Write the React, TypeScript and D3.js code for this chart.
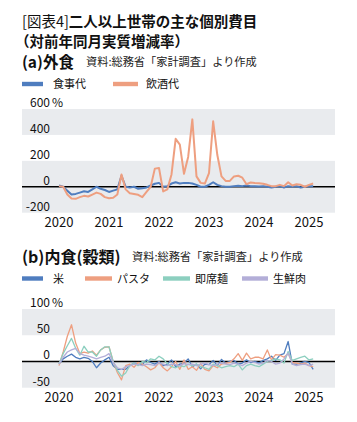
import React from "react";
import * as d3 from "d3";

const W = 357;
const H = 422;
const FONT = "'Noto Sans CJK JP', 'Noto Sans', sans-serif";

const years = ["2020", "2021", "2022", "2023", "2024", "2025"];

// (a) 外食 : monthly from Jan 2020 to Feb 2025
const shokujidai = [10, 0, -30, -60, -55, -45, -35, -40, -20, 0, -15, -25, -40, -30, -20, 85, 0, -5, 0, -15, -12, -5, 10, 23, 30, 0, 5, 25, 35, 25, 30, 30, 25, 15, 0, 0, 15, 35, 15, 5, 0, 0, 5, 8, 5, 10, 5, 5, 3, 5, 0, -5, 0, 5, -5, 5, 0, 5, -5, 0, 5, 5];
const inshudai = [5, 0, -60, -90, -93, -80, -70, -75, -60, -45, -55, -80, -88, -85, -60, 95, -20, -50, -55, -62, -80, -40, 0, 140, 145, -36, -20, 95, 370, 325, 100, 230, 520, 80, 30, 25, 105, 505, 245, 80, 45, 45, 80, 85, 70, 20, 33, 30, 28, 23, 15, 5, 5, 15, 5, 35, 10, 20, 15, 0, 15, 25];

// (b) 内食(穀類)
const kome = [-5, 5, 10, 14, 8, 5, 8, 6, 0, -12, -3, 3, 8, -8, -15, -15, -15, -8, -3, -5, -6, 3, -2, -5, 0, -8, -5, 3, -10, -5, -3, 5, -10, -5, -14, -5, -6, 2, -8, 4, -3, 0, 2, -5, -3, 3, -2, 0, -3, 2, 5, 10, 2, 12, 15, 38, -5, -5, -3, 0, -2, -15];
const pasta = [-8, 18, 48, 70, 35, 15, 18, 16, 20, 12, 22, 27, 28, 0, -21, -35, -8, -5, -11, -2, -5, -10, -16, -12, -2, -12, -18, -10, 0, -15, 3, -15, -10, -17, -4, -15, -18, -8, -12, -5, -3, -2, 5, 15, 2, 16, 5, 8, 8, 5, 22, 3, 13, 12, 8, 15, -2, -3, -5, -3, -8, -10];
const sokusekimen = [-5, 15, 30, 44, 25, 12, 29, 18, 18, 10, 22, 28, 28, 0, -17, -28, -22, -8, -3, -8, 0, -2, 5, 3, 10, 5, -4, -10, -12, -8, -10, -5, -8, -5, -10, -12, -15, -5, -8, -12, -10, -8, -10, -5, -16, -8, -5, -8, -10, -5, 0, 2, 5, 3, -3, 19, 2, 5, 8, 10, 3, 5];
const sensenniku = [-5, 8, 18, 22, 25, 15, 12, 10, 8, 5, 8, 10, 15, -2, -12, -15, -10, -8, -5, -6, -8, -5, -6, -8, -3, -5, -8, -5, -6, -8, -4, -6, -5, -8, -5, -3, -6, -8, -5, -3, -5, -6, -3, -5, -8, -3, 0, -2, -5, -3, 2, 0, -5, -3, 5, 16, -5, -8, -6, -5, -8, -5];

const ticksA = [600, 400, 200, 0, -200];
const ticksB = [100, 50, 0, -50];

const C_BLUE = "#4f7dbf";
const C_ORANGE = "#ee9f80";
const C_TEAL = "#8ccfbf";
const C_LAV = "#b3aed8";
const C_BAND = "#e9ebee";

const X0 = 22;
const X1 = 335;

function Panel({ domain, range, bands, ticks, series, yearY, strokeW }: any) {
  const x = d3.scaleLinear().domain([0, 60]).range([59, 309]);
  const y = d3.scaleLinear().domain(domain).range(range);
  const line = d3
    .line<number>()
    .x((_, i) => x(i))
    .y((d) => y(d));
  return (
    <g>
      {bands.map((b: number[], i: number) => (
        <rect key={i} x={X0} width={X1 - X0} y={y(b[1])} height={y(b[0]) - y(b[1])} fill={C_BAND} />
      ))}
      {ticks.map((t: number) => (
        <text key={t} x={50} y={y(t) - 2} fontSize={12} textAnchor="end" fill="#111" fontFamily={FONT}>
          {t}
        </text>
      ))}
      <text x={52} y={y(ticks[0]) - 2} fontSize={12} fill="#111" fontFamily={FONT}>
        %
      </text>
      <line x1={X0} x2={X1} y1={y(0)} y2={y(0)} stroke="#000" strokeWidth={1.5} />
      {series.map((s: any, i: number) => (
        <path key={i} d={line(s.values) || ""} fill="none" stroke={s.color} strokeWidth={strokeW} strokeLinejoin="round" />
      ))}
      {years.map((yr, i) => (
        <text key={yr} x={x(i * 12)} y={yearY} fontSize={13} textAnchor="middle" fill="#111" fontFamily={FONT}>
          {yr}
        </text>
      ))}
    </g>
  );
}

function Legend({ items, y }: any) {
  return (
    <g>
      {items.map((it: any) => (
        <g key={it.label}>
          <rect x={it.x} y={y - 2.2} width={it.w} height={4.4} fill={it.color} />
          <text x={it.tx} y={y + 4} fontSize={11} fill="#111" fontFamily={FONT}>
            {it.label}
          </text>
        </g>
      ))}
    </g>
  );
}

export default function App() {
  return (
    <svg width={W} height={H} style={{ position: "absolute", left: 0, top: 0, background: "#fff" }}>
      <text x={22} y={27} fontSize={14.5} fontFamily={FONT} fill="#111">
        <tspan fontWeight={400}>[図表4]</tspan>
        <tspan fontWeight={700}>二人以上世帯の主な個別費目</tspan>
      </text>
      <text x={15} y={47} fontSize={14.5} fontWeight={700} fontFamily={FONT} fill="#111">
        （対前年同月実質増減率）
      </text>
      <text x={22} y={68} fontSize={15.5} fontWeight={700} fontFamily={FONT} fill="#111">
        (a)外食
      </text>
      <text x={86} y={65.5} fontSize={11.2} fontFamily={FONT} fill="#222">
        資料:総務省「家計調査」より作成
      </text>
      <Legend
        y={84}
        items={[
          { label: "食事代", color: C_BLUE, x: 22, w: 21, tx: 53 },
          { label: "飲酒代", color: C_ORANGE, x: 113, w: 25, tx: 146 },
        ]}
      />
      <Panel
        domain={[-200, 600]}
        range={[212.7, 109]}
        bands={[[400, 600], [-200, 200]]}
        ticks={ticksA}
        series={[
          { values: shokujidai, color: C_BLUE },
          { values: inshudai, color: C_ORANGE },
        ]}
        yearY={227}
        strokeW={2}
      />
      <text x={22} y={263} fontSize={16} fontWeight={700} fontFamily={FONT} fill="#111">
        (b)内食(穀類)
      </text>
      <text x={132} y={261} fontSize={11.2} fontFamily={FONT} fill="#222">
        資料:総務省「家計調査」より作成
      </text>
      <Legend
        y={278.5}
        items={[
          { label: "米", color: C_BLUE, x: 22, w: 21, tx: 53 },
          { label: "パスタ", color: C_ORANGE, x: 85, w: 27, tx: 117 },
          { label: "即席麺", color: C_TEAL, x: 163, w: 27, tx: 195 },
          { label: "生鮮肉", color: C_LAV, x: 242, w: 26, tx: 273 },
        ]}
      />
      <Panel
        domain={[-50, 100]}
        range={[387.7, 309]}
        bands={[[50, 100], [-50, 0]]}
        ticks={ticksB}
        series={[
          { values: kome, color: C_BLUE },
          { values: pasta, color: C_ORANGE },
          { values: sokusekimen, color: C_TEAL },
          { values: sensenniku, color: C_LAV },
        ]}
        yearY={402}
        strokeW={1.3}
      />
    </svg>
  );
}
